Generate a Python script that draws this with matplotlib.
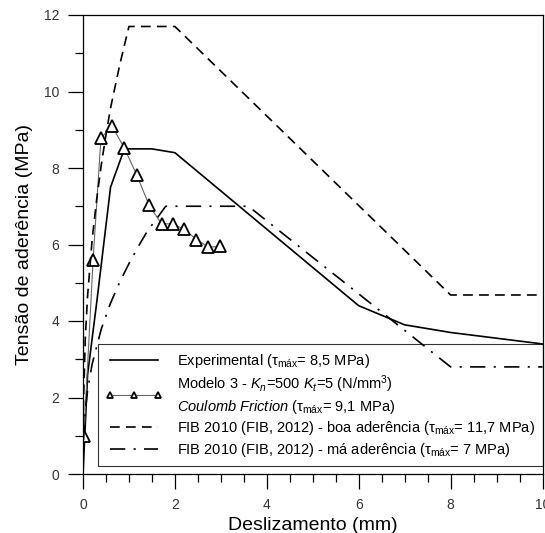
import matplotlib
matplotlib.use('Agg')
from matplotlib import pyplot as plt
from matplotlib.ticker import MultipleLocator

plt.rcParams['font.family'] = ['Liberation Sans', 'DejaVu Sans']
plt.rcParams['mathtext.fontset'] = 'custom'
plt.rcParams['mathtext.rm'] = 'Liberation Sans'
plt.rcParams['mathtext.it'] = 'Liberation Sans:italic'
plt.rcParams['lines.scale_dashes'] = False

# Experimental curve
exp_s = [0, 0.1, 0.3, 0.6, 0.9, 1.5, 2.0, 6.0, 7.0, 8.0, 10.0]
exp_tau = [0, 2.6, 4.5, 7.5, 8.5, 8.5, 8.4, 4.4, 3.9, 3.7, 3.4]

# Modelo 3 (Coulomb friction)
mod_s = [0.02, 0.22, 0.39, 0.63, 0.9, 1.17, 1.44, 1.71, 1.95, 2.2, 2.47, 2.73, 2.98]
mod_tau = [1.0, 5.6, 8.78, 9.1, 8.52, 7.82, 7.02, 6.54, 6.54, 6.4, 6.13, 5.93, 5.95]

# FIB 2010 - boa aderencia
boa_s = [0, 0.01, 0.05, 0.1, 0.2, 0.3, 0.4, 0.5, 0.6, 0.8, 1.0, 2.0, 8.0, 10.0]
boa_tau = [0, 1.87, 3.56, 4.66, 6.14, 7.2, 8.1, 8.87, 9.57, 10.7, 11.7, 11.7, 4.68, 4.68]

# FIB 2010 - ma aderencia
ma_s = [0, 0.01, 0.05, 0.1, 0.2, 0.4, 0.6, 0.8, 1.0, 1.2, 1.4, 1.6, 1.8, 3.6, 8.0, 10.0]
ma_tau = [0, 0.88, 1.65, 2.19, 2.88, 3.8, 4.47, 5.02, 5.5, 5.94, 6.35, 6.67, 7.0, 7.0, 2.8, 2.8]

tau = r'$\mathrm{\tau}_{\mathrm{máx}}$'
lbl_exp = 'Experimental (' + tau + '= 8,5 MPa)'
lbl_mod = ('Modelo 3 - $K_n$=$\\mathit{500}$ $K_t$=$\\mathit{5}$ (N/mm$^3$)\n'
           r'$\mathit{Coulomb\ Friction}$ (' + tau + '= 9,1 MPa)')
lbl_boa = 'FIB 2010 (FIB, 2012) - boa aderência (' + tau + '= 11,7 MPa)'
lbl_ma = 'FIB 2010 (FIB, 2012) - má aderência (' + tau + '= 7 MPa)'

fig = plt.figure(figsize=(5.45, 5.33), dpi=100)
ax = fig.add_axes([83 / 545, 1 - 474 / 533, 459.5 / 545, 459 / 533])

ax.plot(exp_s, exp_tau, color='black', lw=1.2, label=lbl_exp)
ax.plot(mod_s, mod_tau, color='#666666', lw=0.8, marker='^', markersize=8.5,
        markerfacecolor='white', markeredgecolor='black', markeredgewidth=1.3,
        label=lbl_mod)
ax.plot(boa_s, boa_tau, color='black', lw=1.2, linestyle=(0, (7, 4.5)), label=lbl_boa)
ax.plot(ma_s, ma_tau, color='black', lw=1.2, linestyle=(0, (11, 6, 1.5, 6)), label=lbl_ma)

ax.set_xlim(0, 10)
ax.set_ylim(0, 12)
ax.xaxis.set_major_locator(MultipleLocator(2))
ax.xaxis.set_minor_locator(MultipleLocator(0.5))
ax.yaxis.set_major_locator(MultipleLocator(2))
ax.yaxis.set_minor_locator(MultipleLocator(1))
ax.tick_params(which='major', direction='out', length=11, width=0.9, labelsize=10,
               labelcolor='#333333', pad=6)
ax.tick_params(which='minor', direction='out', length=6, width=0.9)
for sp in ax.spines.values():
    sp.set_linewidth(0.9)

ax.set_xlabel('Deslizamento (mm)', fontsize=14, labelpad=4)
ax.set_ylabel('Tensão de aderência (MPa)', fontsize=14, labelpad=8)

leg = ax.legend(loc='lower right', bbox_to_anchor=(1.0, 0.017), borderaxespad=0,
                fontsize=10.5, numpoints=3, markerscale=0.55, handlelength=3.9,
                handletextpad=1.0, labelspacing=0.25, fancybox=False,
                facecolor='none', edgecolor='black', framealpha=None, borderpad=0.5)
leg.get_frame().set_linewidth(0.8)

fig.savefig('out.png', dpi=100)
plt.close()
